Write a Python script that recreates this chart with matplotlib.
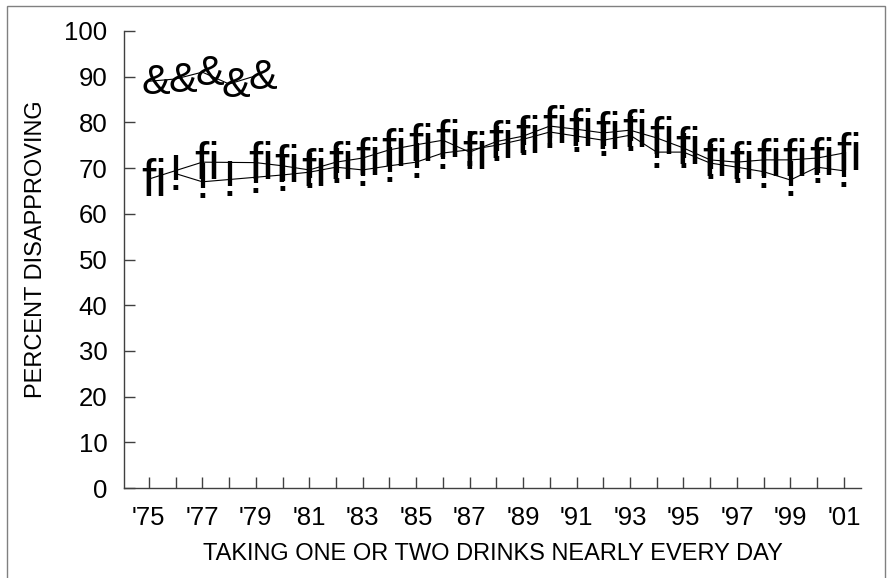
import matplotlib.pyplot as plt
from matplotlib import transforms
from matplotlib.patches import Rectangle

years = list(range(1975, 2002))
# series drawn with the "fi" glyph (gaps where the glyph is missing)
series_fi = [67.6, None, 71.3, None, 71.2, 70.5, 69.6, 71.3, 72.2, 74.0, 75.1,
             76.1, 73.5, 75.8, 77.0, 79.2, 78.5, 77.7, 78.3, 76.6, 74.4, 71.8,
             71.3, 71.8, 71.8, 72.2, 73.3]
# series drawn with the "!" glyph
series_excl = [None, 68.8, 67.0, 67.5, 68.0, 68.5, 69.1, 70.2, 69.6, 70.5, 71.3,
               73.3, 74.0, 75.0, 76.3, 77.9, 77.0, 76.1, 77.2, 73.5, 73.5, 71.1,
               70.2, 69.2, 67.4, 70.2, 69.4]
amp_years = [1975, 1976, 1977, 1978, 1979]
amp_values = [89.0, 89.5, 91.0, 88.4, 90.2]

xtick_labels = ["'%02d" % (y % 100) if (y - 1975) % 2 == 0 else "" for y in years]
yticks = list(range(0, 101, 10))

plt.rcParams['font.family'] = ['Liberation Sans', 'DejaVu Sans']

fig = plt.figure(figsize=(8.94, 5.78), dpi=100)
ax = fig.add_axes([124 / 894, 1 - 488 / 578, (861 - 124) / 894, (488 - 31) / 578])

spine_col = '#404040'


def draw_series(xs, vals, glyph, size, dx, dy):
    pts = [(x, v) for x, v in zip(xs, vals) if v is not None]
    ax.plot([p[0] for p in pts], [p[1] for p in pts], color='black', lw=0.8)
    tr = transforms.offset_copy(ax.transData, fig=fig, x=dx, y=dy, units='dots')
    for x, v in pts:
        ax.text(x, v, glyph, transform=tr, ha='center', va='center',
                fontsize=size, color='black')


draw_series(years, series_fi, 'fi', 37, 5, -3)
draw_series(years, series_excl, '!', 36, 0, -3)
draw_series(amp_years, amp_values, '&', 31, 7, -2)

ax.set_xlim(1974.07, 2001.64)
ax.set_ylim(0, 100)
ax.set_xticks(years)
ax.set_xticklabels(xtick_labels)
ax.set_yticks(yticks)
ax.tick_params(direction='in', length=8, width=1, color=spine_col,
               labelsize=18.5, labelcolor='black')
ax.tick_params(axis='x', pad=13)
ax.tick_params(axis='y', pad=12)

for side in ['top', 'right']:
    ax.spines[side].set_visible(False)
for side in ['left', 'bottom']:
    ax.spines[side].set_color(spine_col)
    ax.spines[side].set_linewidth(1)

ax.set_xlabel('TAKING ONE OR TWO DRINKS NEARLY EVERY DAY', fontsize=17, labelpad=9)
ax.set_ylabel('PERCENT DISAPPROVING', fontsize=17)
ax.yaxis.set_label_coords(-0.105, 0.522)

fig.patches.append(Rectangle((7 / 894, -0.05), (885 - 7) / 894, 1 - 6 / 578 + 0.05,
                             transform=fig.transFigure, fill=False,
                             ec='#808080', lw=1))

fig.savefig('out.png', dpi=100)
